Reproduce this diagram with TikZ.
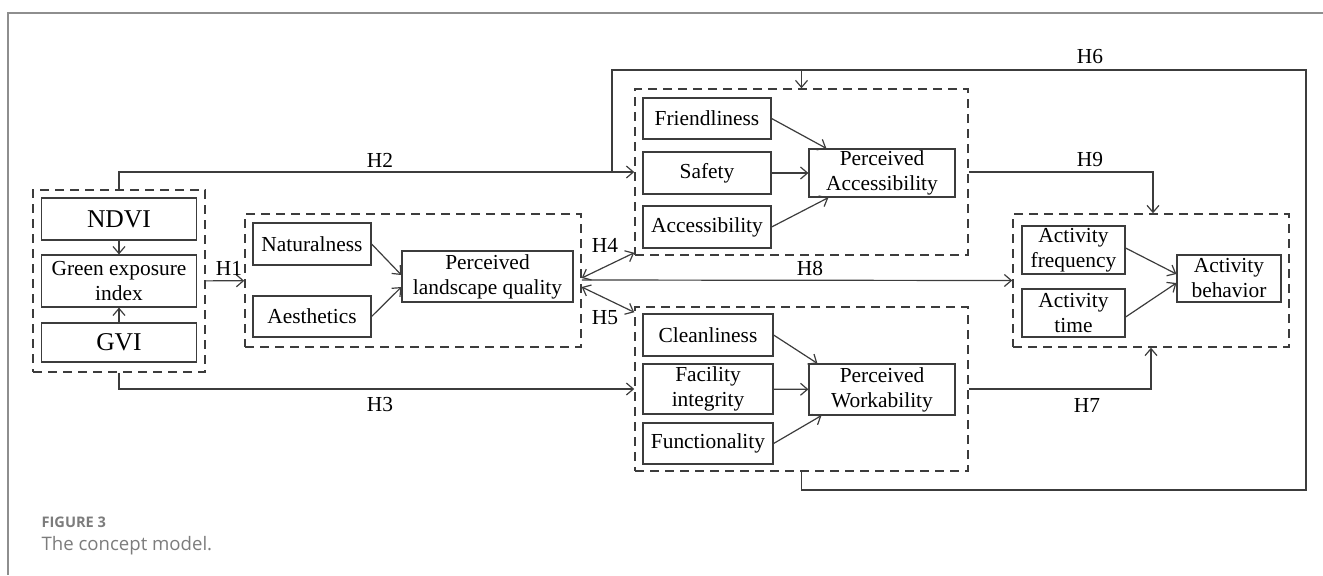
\documentclass[tikz,border=0pt]{standalone}
\usepackage{fontspec}
\setmainfont{Liberation Serif}
\newfontfamily\capfont{Open Sans}
\usetikzlibrary{arrows.meta,calc}
\definecolor{framegray}{HTML}{8E8E8E}
\definecolor{capgray}{HTML}{7C7C7C}
\definecolor{linegray}{HTML}{3C3C3C}
\begin{document}
\begin{tikzpicture}[x=0.5pt, y=-0.5pt, >={Straight Barb[length=3.5pt,width=6pt]},
    line width=0.6pt, draw=linegray,
    box/.style={draw=linegray, align=center, inner sep=0pt, font=\fontsize{10.7}{12.5}\selectfont},
    bigbox/.style={box, font=\fontsize{12.8}{15}\selectfont},
    group/.style={draw=linegray, dash pattern=on 4.5pt off 3pt, line width=0.75pt, inner sep=0pt},
    hyp/.style={inner sep=0pt, font=\fontsize{10.7}{12.5}\selectfont}]
    \useasboundingbox (0,0) rectangle (1323,575);
    \draw[framegray, line width=0.75pt] (1323,13) -- (8,13) -- (8,575);

    % green exposure
    \node[group, minimum width=86pt, minimum height=91pt] (gL) at (119,281) {};
    \node[bigbox, minimum width=77.5pt, minimum height=21pt] (ndvi) at (119,219) {NDVI};
    \node[box, minimum width=77.5pt, minimum height=26pt] (gei) at (119,281) {Green exposure\\index};
    \node[bigbox, minimum width=77.5pt, minimum height=19.5pt] (gvi) at (119,342.5) {GVI};
    \draw[->] (ndvi) -- (gei);
    \draw[->] (gvi) -- (gei);

    % landscape quality
    \node[group, minimum width=168pt, minimum height=66.5pt] (gP) at (413,280.5) {};
    \node[box, minimum width=59pt, minimum height=21pt] (nat) at (312,244) {Naturalness};
    \node[box, minimum width=59pt, minimum height=20.5pt] (aes) at (312,316.5) {Aesthetics};
    \node[box, minimum width=85.5pt, minimum height=25.5pt] (plq) at (487.5,276.5) {Perceived\\landscape quality};
    \draw[->] (nat.east) -- ($(plq.west)+(0,-1.5)$);
    \draw[->] (aes.east) -- ($(plq.west)+(0,10.5)$);

    % accessibility
    \node[group, minimum width=166.5pt, minimum height=83pt] (gA) at (801.5,172) {};
    \node[box, minimum width=64pt, minimum height=20.5pt] (fri) at (707,118.5) {Friendliness};
    \node[box, minimum width=64pt, minimum height=21pt] (saf) at (707,173) {Safety};
    \node[box, minimum width=64pt, minimum height=21pt] (acc) at (707,227) {Accessibility};
    \node[box, minimum width=73pt, minimum height=24pt] (pacc) at (882,173) {Perceived\\Accessibility};
    \draw[->] (fri.east) -- ($(pacc.north west)+(18,0)$);
    \draw[->] (saf) -- (pacc);
    \draw[->] (acc.east) -- ($(pacc.south west)+(20,0)$);

    % workability
    \node[group, minimum width=166.5pt, minimum height=82pt] (gW) at (801.5,389) {};
    \node[box, minimum width=65pt, minimum height=21pt] (cle) at (708,335) {Cleanliness};
    \node[box, minimum width=65pt, minimum height=25pt] (fac) at (708,389) {Facility\\integrity};
    \node[box, minimum width=65pt, minimum height=20.5pt] (fun) at (708,443.5) {Functionality};
    \node[box, minimum width=73pt, minimum height=25.5pt] (pwork) at (882,389.5) {Perceived\\Workability};
    \draw[->] (cle.east) -- ($(pwork.north west)+(9,0)$);
    \draw[->] (fac) -- (pwork);
    \draw[->] (fun.east) -- ($(pwork.south west)+(13,0)$);

    % activity
    \node[group, minimum width=138pt, minimum height=66.5pt] (gAct) at (1151,280.5) {};
    \node[box, minimum width=51.5pt, minimum height=24pt] (afreq) at (1073.5,250) {Activity\\frequency};
    \node[box, minimum width=51.5pt, minimum height=24pt] (atime) at (1073.5,313) {Activity\\time};
    \node[box, minimum width=52pt, minimum height=23.5pt] (abeh) at (1229,278.5) {Activity\\behavior};
    \draw[->] ($(afreq.east)+(0,-2)$) -- ($(abeh.west)+(0,-4.5)$);
    \draw[->] ($(atime.east)+(0,4)$) -- ($(abeh.west)+(0,4.5)$);

    % hypotheses
    \coordinate (h6b) at (1306,490);
    \coordinate (h6t) at (1306,70);
    \coordinate (h2k) at (612,173);
    \draw[->] (gL) -- (gP);
    \draw[->] (gL.north) |- (gA.west);
    \draw[->] (gL.south) |- (gW.west);
    \draw[<->] ($(gP.east)+(0,-2.5)$) -- ($(gA.south west)+(0,-3)$);
    \draw[<->] ($(gP.east)+(0,6.5)$) -- ($(gW.north west)+(0,6)$);
    \draw[->] ($(gP.east)+(0,-0.5)$) -- (gAct.west);
    \draw[->] (gW.south) |- (h6b) -- (h6t) -| (gA.north);
    \draw (gA.north |- h6t) -| (h2k);
    \draw[->] (gA.east) -| ($(gAct.north)+(2,0)$);
    \draw[->] (gW.east) -| (gAct.south);

    \node[hyp] (lh1) at (229,268) {H1};
    \node[hyp] (lh2) at (380,160) {H2};
    \node[hyp] (lh3) at (380,405) {H3};
    \node[hyp] (lh4) at (605,245) {H4};
    \node[hyp] (lh5) at (605,318) {H5};
    \node[hyp] (lh6) at (1090,57) {H6};
    \node[hyp] (lh7) at (1087,405) {H7};
    \node[hyp] (lh8) at (810,268) {H8};
    \node[hyp] (lh9) at (1090,160) {H9};

    \node[anchor=west, inner sep=0pt, text=capgray, font=\capfont\bfseries\fontsize{7.3}{9}\selectfont] (fig) at (41,522) {FIGURE 3};
    \node[anchor=west, inner sep=0pt, text=capgray, font=\capfont\fontsize{9.3}{11}\selectfont] (cap) at (41,546) {The concept model.};
\end{tikzpicture}
\end{document}
